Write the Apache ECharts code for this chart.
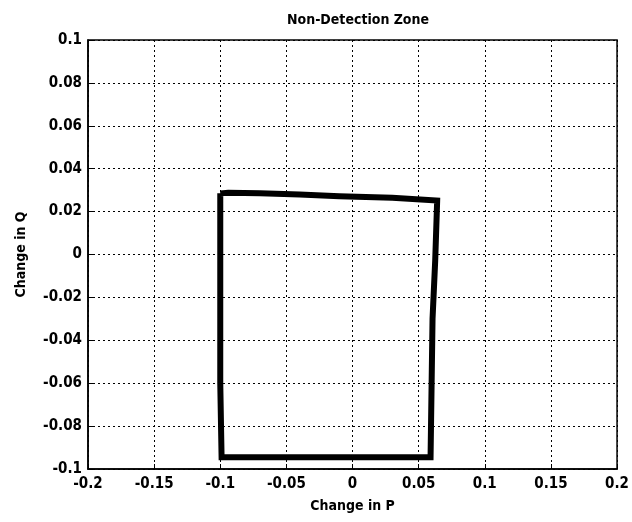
<!DOCTYPE html>
<html>
<head>
<meta charset="utf-8">
<script src="https://cdn.jsdelivr.net/npm/echarts@6/dist/echarts.min.js"></script>
<style>html,body{margin:0;padding:0;background:#fff;}#c{width:632px;height:522px;}</style>
</head>
<body>
<div id="c"></div>
<script>
var boxP = [-0.100, -0.094, -0.070, -0.040, -0.010, 0.030, 0.064, 0.0625, 0.0605, 0.059, -0.099, -0.100, -0.100];
var boxQ = [0.0285, 0.0288, 0.0285, 0.0280, 0.0272, 0.0265, 0.0252, -0.003, -0.030, -0.0945, -0.0945, -0.060, 0.0285];
var xRange = [-0.2, 0.2, 0.05];
var yRange = [-0.1, 0.1, 0.02];

var FONT = '"DejaVu Sans Condensed", "Liberation Sans", Arial, sans-serif';
var pts = boxP.map(function (p, i) { return [p, boxQ[i]]; });
function fmt(v) { return String(Math.round(v * 1000) / 1000); }

var chart = echarts.init(document.getElementById('c'));
chart.setOption({
  animation: false,
  backgroundColor: '#fff',
  title: {
    text: 'Non-Detection Zone', left: 353, top: 8, textAlign: 'center',
    textStyle: { fontFamily: FONT, fontSize: 14, fontWeight: 'bold', color: '#000' }
  },
  grid: { left: 88, right: 14, top: 40, bottom: 53, show: true, borderColor: '#000', borderWidth: 1.5, backgroundColor: 'transparent' },
  xAxis: {
    type: 'value', min: xRange[0], max: xRange[1], interval: xRange[2],
    name: 'Change in P', nameLocation: 'middle', nameGap: 30,
    nameTextStyle: { fontFamily: FONT, fontSize: 14, fontWeight: 'bold', color: '#000' },
    axisLine: { show: true, onZero: false, lineStyle: { color: '#000', width: 1.5 } },
    axisTick: { show: true, inside: true, length: 5, lineStyle: { color: '#000' } },
    axisLabel: { formatter: fmt, margin: 8, fontFamily: FONT, fontSize: 15, fontWeight: 'bold', color: '#000' },
    splitLine: { show: true, lineStyle: { color: '#000', type: [2, 3], width: 1 } }
  },
  yAxis: {
    type: 'value', min: yRange[0], max: yRange[1], interval: yRange[2],
    name: 'Change in Q', nameLocation: 'middle', nameGap: 60, nameRotate: 90,
    nameTextStyle: { fontFamily: FONT, fontSize: 14, fontWeight: 'bold', color: '#000' },
    axisLine: { show: true, onZero: false, lineStyle: { color: '#000', width: 1.5 } },
    axisTick: { show: true, inside: true, length: 5, lineStyle: { color: '#000' } },
    axisLabel: { formatter: fmt, margin: 6, fontFamily: FONT, fontSize: 15, fontWeight: 'bold', color: '#000' },
    splitLine: { show: true, lineStyle: { color: '#000', type: [2, 3], width: 1 } }
  },
  series: [{
    type: 'line', data: pts, showSymbol: false, symbol: 'none',
    lineStyle: { color: '#000', width: 6, join: 'miter' }
  }]
});
</script>
</body>
</html>
